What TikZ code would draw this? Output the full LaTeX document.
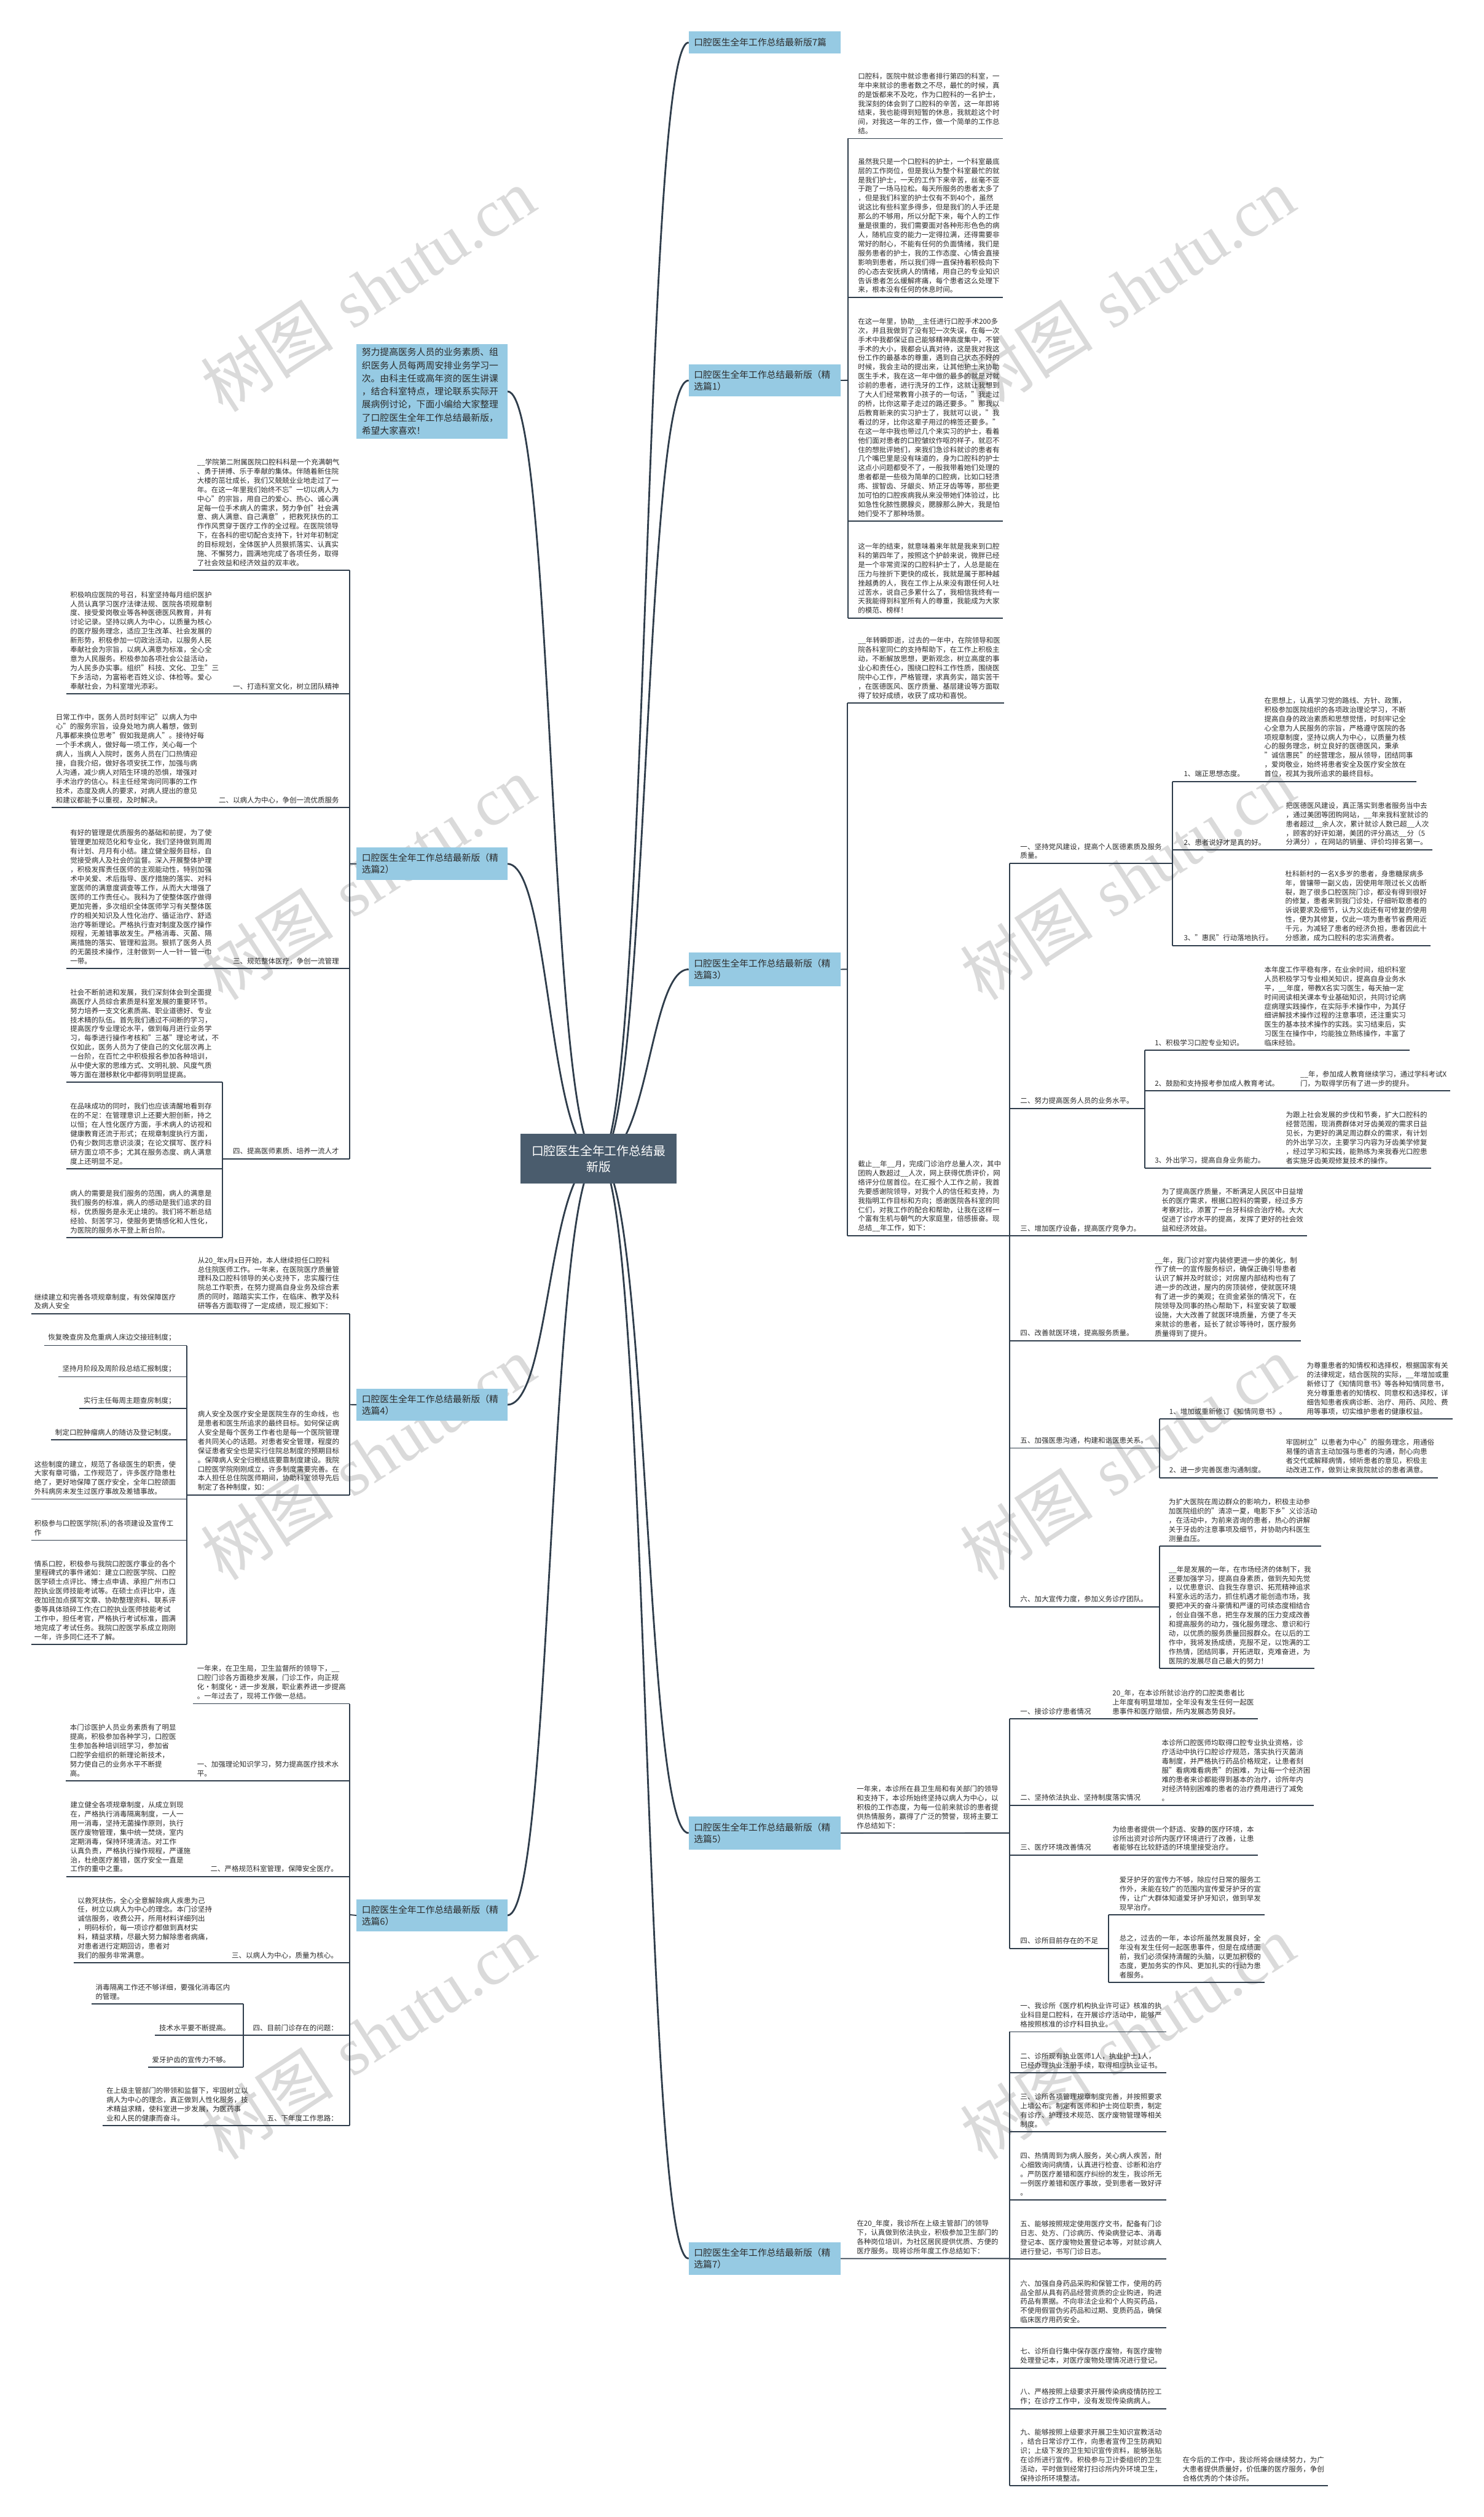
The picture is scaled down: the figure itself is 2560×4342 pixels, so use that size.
\documentclass[tikz,border=0pt]{standalone}
\usepackage{fontspec}
\setmainfont{Noto Sans CJK SC}
\newfontfamily\wmserif{Liberation Serif}
\usetikzlibrary{calc}
\definecolor{lc}{HTML}{2F3D4B}
\definecolor{bfill}{HTML}{96CAE3}
\definecolor{cfill}{HTML}{4A5C6D}
\definecolor{tc}{HTML}{2B2B2B}
\definecolor{wmc}{HTML}{DADADA}
\newcommand\ptxt{\fontsize{12.2}{15.8}\selectfont}
\newcommand\btxt{\fontsize{15.7}{20}\selectfont}
\pgfdeclarelayer{wmk}
\pgfdeclarelayer{bg}
\pgfsetlayers{wmk,bg,main}
\begin{document}
\begin{tikzpicture}[x=1pt,y=-1pt,
  para/.style={anchor=south west,inner sep=0pt,align=left,font=\ptxt,text=tc},
  parar/.style={anchor=south east,inner sep=0pt,align=left,font=\ptxt,text=tc},
  ul/.style={draw=lc,line width=2pt},
  mainln/.style={draw=lc,line width=3pt},
  bnode/.style={anchor=north west,fill=bfill,text=tc,font=\btxt,align=left,inner xsep=9pt,inner ysep=0pt,text width=244pt},
  cnode/.style={fill=cfill,text=white,font=\fontsize{21}{28}\selectfont,align=center,minimum width=269pt,minimum height=86pt,inner sep=0pt},
  wmark/.style={rotate=33,text=wmc,font=\fontsize{115}{120}\selectfont,inner sep=0pt}]
\useasboundingbox (0,0) rectangle (2560,4342);
\begin{pgfonlayer}{wmk}
\fill[white] (0,0) rectangle (2560,4342);
\foreach \x/\y [count=\i] in {635/500,1945/500,635/1515,1945/1515,635/2515,1945/2515,635/3515,1945/3515}
  \node[wmark] (wm\i) at (\x,\y) {树图\hspace{0.3em}{\wmserif shutu.cn}};
\end{pgfonlayer}

% ---------- central and branch nodes ----------
\node[cnode] (C) at (1032.5,1999) {口腔医生全年工作总结最\\新版};
\node[bnode,minimum height=38pt] (B0) at (1188,54) {口腔医生全年工作总结最新版7篇};
\node[bnode,minimum height=56pt] (B1) at (1188,628) {口腔医生全年工作总结最新版（精\\选篇1）};
\node[bnode,minimum height=58pt] (B3) at (1188,1643) {口腔医生全年工作总结最新版（精\\选篇3）};
\node[bnode,minimum height=58pt] (B5) at (1188,3133) {口腔医生全年工作总结最新版（精\\选篇5）};
\node[bnode,minimum height=56pt] (B7) at (1188,3868) {口腔医生全年工作总结最新版（精\\选篇7）};
\node[bnode,minimum height=164pt,text width=242pt,font=\fontsize{15.7}{22.5}\selectfont] (I) at (615,593) {努力提高医务人员的业务素质、组\\织医务人员每两周安排业务学习一\\次。由科主任或高年资的医生讲课\\，结合科室特点，理论联系实际开\\展病例讨论，下面小编给大家整理\\了口腔医生全年工作总结最新版，\\希望大家喜欢！};
\node[bnode,minimum height=56pt,text width=242pt] (B2) at (615,1462) {口腔医生全年工作总结最新版（精\\选篇2）};
\node[bnode,minimum height=56pt,text width=242pt] (B4) at (615,2395) {口腔医生全年工作总结最新版（精\\选篇4）};
\node[bnode,minimum height=56pt,text width=242pt] (B6) at (615,3276) {口腔医生全年工作总结最新版（精\\选篇6）};

\begin{pgfonlayer}{bg}
\draw[mainln] (C.center) .. controls (1120,1999) and (1108,73) .. (B0.west);
\draw[mainln] (C.center) .. controls (1120,1999) and (1108,656) .. (B1.west);
\draw[mainln] (C.center) .. controls (1120,1999) and (1120,1672) .. (B3.west);
\draw[mainln] (C.center) .. controls (1120,1999) and (1110,3162) .. (B5.west);
\draw[mainln] (C.center) .. controls (1120,1999) and (1108,3896) .. (B7.west);
\draw[mainln] (C.center) .. controls (945,1999) and (957,675) .. (I.east);
\draw[mainln] (C.center) .. controls (945,1999) and (950,1490) .. (B2.east);
\draw[mainln] (C.center) .. controls (945,1999) and (950,2423) .. (B4.east);
\draw[mainln] (C.center) .. controls (945,1999) and (955,3303) .. (B6.east);
\end{pgfonlayer}

% ---------- 篇1 ----------
\draw[ul] (B1.east) -- (1463,656);
\draw[ul] (1463,239) -- (1463,1066);
\node[para] (p1a) at (1480,232) {口腔科，医院中就诊患者排行第四的科室，一\\年中来就诊的患者数之不尽，最忙的时候，真\\的是饭都来不及吃，作为口腔科的一名护士，\\我深刻的体会到了口腔科的辛苦，这一年即将\\结束，我也能得到短暂的休息，我就趁这个时\\间，对我这一年的工作，做一个简单的工作总\\结。};
\node[para] (p1b) at (1480,506) {虽然我只是一个口腔科的护士，一个科室最底\\层的工作岗位，但是我认为整个科室最忙的就\\是我们护士，一天的工作下来辛苦，丝毫不亚\\于跑了一场马拉松。每天所服务的患者太多了\\，但是我们科室的护士仅有不到40个，虽然\\说这比有些科室多得多，但是我们的人手还是\\那么的不够用，所以分配下来，每个人的工作\\量是很重的，我们需要面对各种形形色色的病\\人，随机应变的能力一定得拉满，还得需要非\\常好的耐心，不能有任何的负面情绪，我们是\\服务患者的护士，我的工作态度、心情会直接\\影响到患者，所以我们得一直保持着积极向下\\的心态去安抚病人的情绪，用自己的专业知识\\告诉患者怎么缓解疼痛，每个患者这么处理下\\来，根本没有任何的休息时间。};
\node[para] (p1c) at (1480,892) {在这一年里，协助\_\_主任进行口腔手术200多\\次，并且我做到了没有犯一次失误，在每一次\\手术中我都保证自己能够精神高度集中，不管\\手术的大小，我都会认真对待，这是我对我这\\份工作的最基本的尊重，遇到自己状态不好的\\时候，我会主动的提出来，让其他护士来协助\\医生手术，我在这一年中做的最多的就是对就\\诊前的患者，进行洗牙的工作，这就让我想到\\了大人们经常教育小孩子的一句话，"我走过\\的桥，比你这辈子走过的路还要多。"那我以\\后教育新来的实习护士了，我就可以说，"我\\看过的牙，比你这辈子用过的棉签还要多。"\\在这一年中我也带过几个来实习的护士，看着\\他们面对患者的口腔皱纹作呕的样子，就忍不\\住的想批评她们，来我们急诊科就诊的患者有\\几个嘴巴里是没有味道的，身为口腔科的护士\\这点小问题都受不了，一般我带着她们处理的\\患者都是一些极为简单的口腔病，比如口轻溃\\疡、拔智齿、牙龈炎、矫正牙齿等等，那些更\\加可怕的口腔疾病我从来没带她们体验过，比\\如急性化脓性腮腺炎，腮腺那么肿大，我是怕\\她们受不了那种场景。};
\node[para] (p1d) at (1480,1059) {这一年的结束，就意味着来年就是我来到口腔\\科的第四年了，按照这个护龄来说，微胖已经\\是一个非常资深的口腔科护士了，人总是能在\\压力与挫折下更快的成长，我就是属于那种越\\挫越勇的人，我在工作上从来没有跟任何人吐\\过苦水，说自己多累什么了，我相信我终有一\\天我能得到科室所有人的尊重，我能成为大家\\的模范、榜样！};
\draw[ul] (1463,239) -- ($(p1a.south east)+(6,7)$);
\draw[ul] (1463,513) -- ($(p1b.south east)+(6,7)$);
\draw[ul] (1463,899) -- ($(p1c.south east)+(6,7)$);
\draw[ul] (1463,1066) -- ($(p1d.south east)+(6,7)$);

% ---------- 篇3 ----------
\draw[ul] (B3.east) -- (1462,1672);
\draw[ul] (1462,1213) -- (1462,2132);
\node[para] (p3a) at (1480,1206) {\_\_年转瞬即逝，过去的一年中，在院领导和医\\院各科室同仁的支持帮助下，在工作上积极主\\动，不断解放思想，更新观念，树立高度的事\\业心和责任心，围绕口腔科工作性质，围绕医\\院中心工作，严格管理，求真务实，踏实苦干\\，在医德医风、医疗质量、基层建设等方面取\\得了较好成绩，收获了成功和喜悦。};
\draw[ul] (1462,1213) -- ($(p3a.south east)+(6,7)$);
\node[para] (p3b) at (1480,2125) {截止\_\_年\_\_月，完成门诊治疗总量人次，其中\\团购人数超过\_\_人次，网上获得优质评价，网\\络评分位居首位。在汇报个人工作之前，我首\\先要感谢院领导，对我个人的信任和支持，为\\我指明工作目标和方向；感谢医院各科室的同\\仁们，对我工作的配合和帮助，让我在这样一\\个富有生机与朝气的大家庭里，倍感振奋。现\\总结\_\_年工作，如下：};
\draw[ul] (1462,2132) -- (1742,2132);
\draw[ul] (1742,1489) -- (1742,2772);
% 一
\node[para] (l31) at (1760,1482) {一、坚持党风建设，提高个人医德素质及服务\\质量。};
\draw[ul] (1742,1489) -- (2023,1489);
\draw[ul] (2023,1348) -- (2023,1631);
\node[para] (l311) at (2042,1341) {1、端正思想态度。};
\node[para] (p311) at (2181,1341) {在思想上，认真学习党的路线、方针、政策，\\积极参加医院组织的各项政治理论学习，不断\\提高自身的政治素质和思想觉悟，时刻牢记全\\心全意为人民服务的宗旨，严格遵守医院的各\\项规章制度，坚持以病人为中心，以质量为核\\心的服务理念，树立良好的医德医风，秉承\\"诚信惠民"的经营理念，服从领导，团结同事\\，爱岗敬业，始终将患者安全及医疗安全放在\\首位，视其为我所追求的最终目标。};
\draw[ul] (2023,1348) -- ($(p311.south east)+(6,7)$);
\node[para] (l312) at (2042,1459) {2、患者说好才是真的好。};
\node[para] (p312) at (2218,1459) {把医德医风建设，真正落实到患者服务当中去\\，通过美团等团购网站，\_\_年来我科室就诊的\\患者超过\_\_余人次，累计就诊人数已超\_\_人次\\，顾客的好评如潮，美团的评分高达\_\_分（5\\分满分），在网站的销量、评价均排名第一。};
\draw[ul] (2023,1466) -- ($(p312.south east)+(6,7)$);
\node[para] (l313) at (2042,1624) {3、"惠民"行动落地执行。};
\node[para] (p313) at (2217,1624) {杜科新村的一名X多岁的患者，身患糖尿病多\\年，曾镶带一副义齿，因使用年限过长义齿断\\裂，跑了很多口腔医院门诊，都没有得到很好\\的修复，患者来到我门诊处，仔细听取患者的\\诉说要求及细节，认为义齿还有可修复的使用\\性，便为其修复，仅此一项为患者节省费用近\\千元，为减轻了患者的经济负担，患者因此十\\分感激，成为口腔科的忠实消费者。};
\draw[ul] (2023,1631) -- ($(p313.south east)+(6,7)$);
% 二
\node[para] (l32) at (1760,1905) {二、努力提高医务人员的业务水平。};
\draw[ul] (1742,1912) -- (1975,1912);
\draw[ul] (1975,1812) -- (1975,2015);
\node[para] (l321) at (1992,1805) {1、积极学习口腔专业知识。};
\node[para] (p321) at (2181,1805) {本年度工作平稳有序，在业余时间，组织科室\\人员积极学习专业相关知识，提高自身业务水\\平，\_\_年度，带教X名实习医生，每天抽一定\\时间阅读相关课本专业基础知识，共同讨论病\\症病理实践操作，在实际手术操作中，为其仔\\细讲解技术操作过程的注意事项，还注重实习\\医生的基本技术操作的实践。实习结束后，实\\习医生在操作中，均能独立熟练操作，丰富了\\临床经验。};
\draw[ul] (1975,1812) -- ($(p321.south east)+(6,7)$);
\node[para] (l322) at (1992,1875) {2、鼓励和支持报考参加成人教育考试。};
\node[para] (p322) at (2243,1875) {\_\_年，参加成人教育继续学习，通过学科考试X\\门，为取得学历有了进一步的提升。};
\draw[ul] (1975,1882) -- ($(p322.south east)+(6,7)$);
\node[para] (l323) at (1992,2008) {3、外出学习，提高自身业务能力。};
\node[para] (p323) at (2218,2008) {为跟上社会发展的步伐和节奏，扩大口腔科的\\经营范围，现消费群体对牙齿美观的需求日益\\见长，为更好的满足周边群众的需求，有计划\\的外出学习次，主要学习内容为牙齿美学修复\\，经过学习和实践，能熟练为来我春光口腔患\\者实施牙齿美观修复技术的操作。};
\draw[ul] (1975,2015) -- ($(p323.south east)+(6,7)$);
% 三
\node[para] (l33) at (1760,2125) {三、增加医疗设备，提高医疗竞争力。};
\node[para] (p33) at (2004,2125) {为了提高医疗质量，不断满足人民区中日益增\\长的医疗需求，根据口腔科的需要，经过多方\\考察对比，添置了一台牙科综合治疗椅。大大\\促进了诊疗水平的提高，发挥了更好的社会效\\益和经济效益。};
\draw[ul] (1742,2132) -- ($(p33.south east)+(6,7)$);
% 四
\node[para] (l34) at (1760,2306) {四、改善就医环境，提高服务质量。};
\node[para] (p34) at (1992,2306) {\_\_年，我门诊对室内装修更进一步的美化，制\\作了统一的宣传服务标识，确保正确引导患者\\认识了解并及时就诊；对房屋内部结构也有了\\进一步的改进，屋内的房顶装修，使就医环境\\有了进一步的美观；在资金紧张的情况下，在\\院领导及同事的热心帮助下，科室安装了取暖\\设施，大大改善了就医环境质量，方便了冬天\\来就诊的患者，延长了就诊等待时，医疗服务\\质量得到了提升。};
\draw[ul] (1742,2313) -- ($(p34.south east)+(6,7)$);
% 五
\node[para] (l35) at (1760,2491) {五、加强医患沟通，构建和谐医患关系。};
\draw[ul] (1742,2498) -- (2000,2498);
\draw[ul] (2000,2448) -- (2000,2549);
\node[para] (l351) at (2017,2441) {1、增加或重新修订《知情同意书》。};
\node[para] (p351) at (2254,2441) {为尊重患者的知情权和选择权，根据国家有关\\的法律规定，结合医院的实际，\_\_年增加或重\\新修订了《知情同意书》等各种知情同意书，\\充分尊重患者的知情权、同意权和选择权，详\\细告知患者疾病诊断、治疗、用药、风险、费\\用等事项，切实维护患者的健康权益。};
\draw[ul] (2000,2448) -- ($(p351.south east)+(6,7)$);
\node[para] (l352) at (2017,2542) {2、进一步完善医患沟通制度。};
\node[para] (p352) at (2218,2542) {牢固树立"以患者为中心"的服务理念，用通俗\\易懂的语言主动加强与患者的沟通，耐心向患\\者交代或解释病情，倾听患者的意见，积极主\\动改进工作，做到让来我院就诊的患者满意。};
\draw[ul] (2000,2549) -- ($(p352.south east)+(6,7)$);
% 六
\node[para] (l36) at (1760,2765) {六、加大宣传力度，参加义务诊疗团队。};
\draw[ul] (1742,2772) -- (2000,2772);
\draw[ul] (2000,2667) -- (2000,2878);
\node[para] (p361) at (2016,2660) {为扩大医院在周边群众的影响力，积极主动参\\加医院组织的"清凉一夏，电影下乡"义诊活动\\，在活动中，为前来咨询的患者，热心的讲解\\关于牙齿的注意事项及细节，并协助内科医生\\测量血压。};
\draw[ul] (2000,2667) -- ($(p361.south east)+(6,7)$);
\node[para] (p362) at (2016,2871) {\_\_年是发展的一年，在市场经济的体制下，我\\还要加强学习，提高自身素质，做到先知先觉\\，以优患意识、自我生存意识、拓荒精神追求\\科室永远的活力，抓住机遇才能创造市场，我\\要把冲天的奋斗豪情和严谨的可续态度相结合\\，创业自强不息，把生存发展的压力变成改善\\和提高服务的动力，强化服务理念、意识和行\\动，以优质的服务质量回报群众。在以后的工\\作中，我将发扬成绩，克服不足，以饱满的工\\作热情，团结同事，开拓进取，克难奋进，为\\医院的发展尽自己最大的努力！};
\draw[ul] (2000,2878) -- ($(p362.south east)+(6,7)$);

% ---------- 篇2 (left) ----------
\draw[ul] (B2.west) -- (603,1490);
\draw[ul] (603,984) -- (603,1999);
\node[para] (q0) at (340,977) {\_\_学院第二附属医院口腔科科是一个充满朝气\\、勇于拼搏、乐于奉献的集体。伴随着新住院\\大楼的茁壮成长，我们又兢兢业业地走过了一\\年。在这一年里我们始终不忘"一切以病人为\\中心"的宗旨，用自己的爱心、热心、诚心满\\足每一位手术病人的需求，努力争创"社会满\\意、病人满意、自己满意"，把救死扶伤的工\\作作风贯穿于医疗工作的全过程。在医院领导\\下，在各科的密切配合支持下，针对年初制定\\的目标规划，全体医护人员狠抓落实、认真实\\施、不懈努力，圆满地完成了各项任务，取得\\了社会效益和经济效益的双丰收。};
\draw[ul] ($(q0.south west)+(-7,7)$) -- (603,984);
\node[parar] (l21) at (585,1190) {一、打造科室文化，树立团队精神};
\node[para] (q21) at (121,1190) {积极响应医院的号召，科室坚持每月组织医护\\人员认真学习医疗法律法规、医院各项规章制\\度、接受爱岗敬业等各种医德医风教育，并有\\讨论记录。坚持以病人为中心，以质量为核心\\的医疗服务理念，适应卫生改革、社会发展的\\新形势，积极参加一切政治活动，以服务人民\\奉献社会为宗旨，以病人满意为标准，全心全\\意为人民服务。积极参加各项社会公益活动，\\为人民多办实事。组织"科技、文化、卫生"三\\下乡活动，为富裕老百姓义诊、体检等。爱心\\奉献社会，为科室增光添彩。};
\draw[ul] ($(q21.south west)+(-7,7)$) -- (603,1197);
\node[parar] (l22) at (585,1386) {二、以病人为中心，争创一流优质服务};
\node[para] (q22) at (96,1386) {日常工作中，医务人员时刻牢记"以病人为中\\心"的服务宗旨，设身处地为病人着想，做到\\凡事都来换位思考"假如我是病人"。接待好每\\一个手术病人，做好每一项工作，关心每一个\\病人，当病人入院时，医务人员在门口热情迎\\接，自我介绍，做好各项安抚工作，加强与病\\人沟通，减少病人对陌生环境的恐惧，增强对\\手术治疗的信心。科主任经常询问同事的工作\\技术，态度及病人的要求，对病人提出的意见\\和建议都能予以重视，及时解决。};
\draw[ul] ($(q22.south west)+(-7,7)$) -- (603,1393);
\node[parar] (l23) at (585,1664) {三、规范整体医疗，争创一流管理};
\node[para] (q23) at (121,1664) {有好的管理是优质服务的基础和前提，为了使\\管理更加规范化和专业化，我们坚持做到周周\\有计划、月月有小结。建立健全服务目标，自\\觉接受病人及社会的监督。深入开展整体护理\\，积极发挥责任医师的主观能动性，特别加强\\术中关爱、术后指导、医疗措施的落实、对科\\室医师的满意度调查等工作，从而大大增强了\\医师的工作责任心。我科为了使整体医疗做得\\更加完善，多次组织全体医师学习有关整体医\\疗的相关知识及人性化治疗、循证治疗、舒适\\治疗等新理论。严格执行查对制度及医疗操作\\规程，无差错事故发生。严格消毒、灭菌、隔\\离措施的落实、管理和监测。狠抓了医务人员\\的无菌技术操作，注射做到一人一针一管一巾\\一带。};
\draw[ul] ($(q23.south west)+(-7,7)$) -- (603,1671);
\node[parar] (l24) at (585,1992) {四、提高医师素质、培养一流人才};
\draw[ul] (384,1999) -- (603,1999);
\draw[ul] (384,1867) -- (384,2135);
\node[para] (q241) at (121,1860) {社会不断前进和发展，我们深刻体会到全面提\\高医疗人员综合素质是科室发展的重要环节。\\努力培养一支文化素质高、职业道德好、专业\\技术精的队伍。首先我们通过不间断的学习，\\提高医疗专业理论水平，做到每月进行业务学\\习，每季进行操作考核和"三基"理论考试，不\\仅如此，医务人员为了使自己的文化层次再上\\一台阶，在百忙之中积极报名参加各种培训，\\从中使大家的思维方式、文明礼貌、风度气质\\等方面在潜移默化中都得到明显提高。};
\draw[ul] ($(q241.south west)+(-7,7)$) -- (384,1867);
\node[para] (q242) at (121,2009) {在品味成功的同时，我们也应该清醒地看到存\\在的不足：在管理意识上还要大胆创新，持之\\以恒；在人性化医疗方面，手术病人的访视和\\健康教育还流于形式；在规章制度执行方面，\\仍有少数同志意识淡漠；在论文撰写、医疗科\\研方面立项不多；尤其在服务态度、病人满意\\度上还明显不足。};
\draw[ul] ($(q242.south west)+(-7,7)$) -- (384,2016);
\node[para] (q243) at (121,2128) {病人的需要是我们服务的范围，病人的满意是\\我们服务的标准，病人的感动是我们追求的目\\标，优质服务是永无止境的。我们将不断总结\\经验、刻苦学习，使服务更情感化和人性化，\\为医院的服务水平登上新台阶。};
\draw[ul] ($(q243.south west)+(-7,7)$) -- (384,2135);

% ---------- 篇4 (left) ----------
\draw[ul] (B4.west) -- (603,2423);
\draw[ul] (603,2266) -- (603,2579);
\node[para] (r0) at (341,2259) {从20\_年x月x日开始，本人继续担任口腔科\\总住院医师工作。一年来，在医院医疗质量管\\理科及口腔科领导的关心支持下，忠实履行住\\院总工作职责，在努力提高自身业务及综合素\\质的同时，踏踏实实工作，在临床、教学及科\\研等各方面取得了一定成绩，现汇报如下：};
\node[para] (r0c) at (59,2259) {继续建立和完善各项规章制度，有效保障医疗\\及病人安全};
\draw[ul] ($(r0c.south west)+(-5,7)$) -- (603,2266);
\node[para] (r1) at (341,2572) {病人安全及医疗安全是医院生存的生命线，也\\是患者和医生所追求的最终目标。如何保证病\\人安全是每个医务工作者也是每一个医院管理\\者共同关心的话题。对患者安全管理，程度的\\保证患者安全也是实行住院总制度的预期目标\\。保障病人安全归根结底要靠制度建设。我院\\口腔医学院刚刚成立，许多制度需要完善。在\\本人担任总住院医师期间，协助科室领导先后\\制定了各种制度，如：};
\draw[ul] (322,2579) -- (603,2579);
\draw[ul] (322,2321) -- (322,2837);
\node[parar] (r11) at (303,2314) {恢复晚查房及危重病人床边交接班制度；};
\draw[ul] ($(r11.south west)+(-7,7)$) -- (322,2321);
\node[parar] (r12) at (303,2368) {坚持月阶段及周阶段总结汇报制度；};
\draw[ul] ($(r12.south west)+(-7,7)$) -- (322,2375);
\node[parar] (r13) at (303,2423) {实行主任每周主题查房制度；};
\draw[ul] ($(r13.south west)+(-7,7)$) -- (322,2430);
\node[parar] (r14) at (303,2477) {制定口腔肿瘤病人的随访及登记制度。};
\draw[ul] ($(r14.south west)+(-7,7)$) -- (322,2484);
\node[para] (r15) at (59,2579) {这些制度的建立，规范了各级医生的职责，使\\大家有章可循，工作规范了，许多医疗隐患杜\\绝了，更好地保障了医疗安全，全年口腔颌面\\外科病房未发生过医疗事故及差错事故。};
\draw[ul] ($(r15.south west)+(-5,7)$) -- (322,2586);
\node[para] (r16) at (59,2650) {积极参与口腔医学院(系)的各项建设及宣传工\\作};
\draw[ul] ($(r16.south west)+(-5,7)$) -- (322,2657);
\node[para] (r17) at (59,2830) {情系口腔，积极参与我院口腔医疗事业的各个\\里程碑式的事件诸如：建立口腔医学院、口腔\\医学硕士点评比、博士点申请、承担广州市口\\腔执业医师技能考试等。在硕士点评比中，连\\夜加班加点撰写文章、协助整理资料、联系评\\委等具体琐碎工作;在口腔执业医师技能考试\\工作中，担任考官，严格执行考试标准，圆满\\地完成了考试任务。我院口腔医学系成立刚刚\\一年，许多同仁还不了解。};
\draw[ul] ($(r17.south west)+(-5,7)$) -- (322,2837);

% ---------- 篇6 (left) ----------
\draw[ul] (B6.west) -- (603,3303);
\draw[ul] (603,2939) -- (603,3667);
\node[para] (s0) at (340,2932) {一年来，在卫生局，卫生监督所的领导下，\_\_\\口腔门诊各方面稳步发展，门诊工作，向正规\\化·制度化·进一步发展，职业素养进一步提高\\。一年过去了，现将工作做一总结。};
\draw[ul] ($(s0.south west)+(-7,7)$) -- (603,2939);
\node[para] (l61) at (340,3065) {一、加强理论知识学习，努力提高医疗技术水\\平。};
\node[parar] (s61) at (304,3065) {本门诊医护人员业务素质有了明显\\提高，积极参加各种学习，口腔医\\生参加各种培训班学习，参加省\\口腔学会组织的新理论新技术，\\努力使自己的业务水平不断提\\高。};
\draw[ul] ($(s61.south west)+(-7,7)$) -- (603,3072);
\node[parar] (l62) at (583,3230) {二、严格规范科室管理，保障安全医疗。};
\node[parar] (s62) at (329,3230) {建立健全各项规章制度，从成立到现\\在，严格执行消毒隔离制度，一人一\\用一消毒，坚持无菌操作原则，执行\\医疗废物管理，集中统一焚烧，室内\\定期消毒，保持环境清洁。对工作\\认真负责，严格执行操作规程，严谨施\\治，杜绝医疗差错，医疗安全一直是\\工作的重中之重。};
\draw[ul] ($(s62.south west)+(-7,7)$) -- (603,3237);
\node[parar] (l63) at (583,3379) {三、以病人为中心，质量为核心。};
\node[parar] (s63) at (366,3379) {以救死扶伤，全心全意解除病人疾患为己\\任，树立以病人为中心的理念。本门诊坚持\\诚信服务，收费公开，所用材料详细列出\\，明码标价，每一项诊疗都做到真材实\\料，精益求精，尽最大努力解除患者病痛，\\对患者进行定期回访，患者对\\我们的服务非常满意。};
\draw[ul] ($(s63.south west)+(-7,7)$) -- (603,3386);
\node[parar] (l64) at (583,3504) {四、目前门诊存在的问题：};
\draw[ul] (420,3511) -- (603,3511);
\draw[ul] (420,3457) -- (420,3566);
\node[parar] (s641) at (397,3450) {消毒隔离工作还不够详细，要强化消毒区内\\的管理。};
\draw[ul] ($(s641.south west)+(-7,7)$) -- (420,3457);
\node[parar] (s642) at (397,3504) {技术水平要不断提高。};
\draw[ul] ($(s642.south west)+(-7,7)$) -- (420,3511);
\node[parar] (s643) at (397,3559) {爱牙护齿的宣传力不够。};
\draw[ul] ($(s643.south west)+(-7,7)$) -- (420,3566);
\node[parar] (l65) at (583,3660) {五、下年度工作思路：};
\node[parar] (s65) at (428,3660) {在上级主管部门的带领和监督下，牢固树立以\\病人为中心的理念，真正做到人性化服务，技\\术精益求精，使科室进一步发展，为医药事\\业和人民的健康而奋斗。};
\draw[ul] ($(s65.south west)+(-7,7)$) -- (603,3667);

% ---------- 篇5 ----------
\draw[ul] (B5.east) -- (1742,3162);
\node[para] (t0) at (1478,3155) {一年来，本诊所在县卫生局和有关部门的领导\\和支持下，本诊所始终坚持以病人为中心，以\\积极的工作态度，为每一位前来就诊的患者提\\供热情服务，赢得了广泛的赞誉，现将主要工\\作总结如下：};
\draw[ul] (1742,2965) -- (1742,3361);
\node[para] (t51) at (1760,2958) {一、接诊诊疗患者情况};
\node[para] (t51p) at (1919,2958) {20\_年，在本诊所就诊治疗的口腔类患者比\\上年度有明显增加，全年没有发生任何一起医\\患事件和医疗赔偿，所内发展态势良好。};
\draw[ul] (1742,2965) -- ($(t51p.south east)+(6,7)$);
\node[para] (t52) at (1760,3107) {二、坚持依法执业、坚持制度落实情况};
\node[para] (t52p) at (2004,3107) {本诊所口腔医师均取得口腔专业执业资格，诊\\疗活动中执行口腔诊疗规范，落实执行灭菌消\\毒制度，并严格执行药品价格规定，让患者刻\\服"看病难看病贵"的困难，为让每一个经济困\\难的患者来诊都能得到基本的治疗，诊所年内\\对经济特别困难的患者的治疗费用进行了减免\\。};
\draw[ul] (1742,3114) -- ($(t52p.south east)+(6,7)$);
\node[para] (t53) at (1760,3193) {三、医疗环境改善情况};
\node[para] (t53p) at (1919,3193) {为给患者提供一个舒适、安静的医疗环境，本\\诊所出资对诊所内医疗环境进行了改善，让患\\者能够在比较舒适的环境里接受治疗。};
\draw[ul] (1742,3200) -- ($(t53p.south east)+(6,7)$);
\node[para] (t54) at (1760,3354) {四、诊所目前存在的不足};
\draw[ul] (1742,3361) -- (1912,3361);
\draw[ul] (1912,3303) -- (1912,3420);
\node[para] (t541) at (1931,3296) {爱牙护牙的宣传力不够，除应付日常的服务工\\作外，未能在较广的范围内宣传爱牙护牙的宣\\传，让广大群体知道爱牙护牙知识，做到早发\\现早治疗。};
\draw[ul] (1912,3303) -- ($(t541.south east)+(6,7)$);
\node[para] (t542) at (1931,3413) {总之，过去的一年，本诊所虽然发展良好，全\\年没有发生任何一起医患事件，但是在成绩面\\前，我们必须保持清醒的头脑，以更加积极的\\态度，更加务实的作风、更加扎实的行动为患\\者服务。};
\draw[ul] (1912,3420) -- ($(t542.south east)+(6,7)$);

% ---------- 篇7 ----------
\draw[ul] (B7.east) -- (1742,3896);
\node[para] (u0) at (1478,3889) {在20\_年度，我诊所在上级主管部门的领导\\下，认真做到依法执业，积极参加卫生部门的\\各种岗位培训，为社区居民提供优质、方便的\\医疗服务。现将诊所年度工作总结如下：};
\draw[ul] (1742,3505) -- (1742,4288);
\node[para] (u1) at (1760,3498) {一、我诊所《医疗机构执业许可证》核准的执\\业科目是口腔科，在开展诊疗活动中，能够严\\格按照核准的诊疗科目执业。};
\draw[ul] (1742,3505) -- (2012,3505);
\node[para] (u2) at (1760,3569) {二、诊所现有执业医师1人，执业护士1人，\\已经办理执业注册手续，取得相应执业证书。};
\draw[ul] (1742,3576) -- (2012,3576);
\node[para] (u3) at (1760,3670) {三、诊所各项管理规章制度完善，并按照要求\\上墙公布。制定有医师和护士岗位职责，制定\\有诊疗、护理技术规范、医疗废物管理等相关\\制度。};
\draw[ul] (1742,3677) -- (2012,3677);
\node[para] (u4) at (1760,3788) {四、热情周到为病人服务，关心病人疾苦，耐\\心细致询问病情，认真进行检查、诊断和治疗\\。严防医疗差错和医疗纠纷的发生，我诊所无\\一例医疗差错和医疗事故，受到患者一致好评\\。};
\draw[ul] (1742,3795) -- (2012,3795);
\node[para] (u5) at (1760,3890) {五、能够按照规定使用医疗文书，配备有门诊\\日志、处方、门诊病历、传染病登记本、消毒\\登记本、医疗废物处置登记本等，对就诊病人\\进行登记，书写门诊日志。};
\draw[ul] (1742,3897) -- (2012,3897);
\node[para] (u6) at (1760,4008) {六、加强自身药品采购和保管工作，使用的药\\品全部从具有药品经营资质的企业购进，购进\\药品有票据。不向非法企业和个人购买药品，\\不使用假冒伪劣药品和过期、变质药品，确保\\临床医疗用药安全。};
\draw[ul] (1742,4015) -- (2012,4015);
\node[para] (u7) at (1760,4078) {七、诊所自行集中保存医疗废物，有医疗废物\\处理登记本，对医疗废物处理情况进行登记。};
\draw[ul] (1742,4085) -- (2012,4085);
\node[para] (u8) at (1760,4148) {八、严格按照上级要求开展传染病疫情防控工\\作；在诊疗工作中，没有发现传染病病人。};
\draw[ul] (1742,4155) -- (2012,4155);
\node[para] (u9) at (1760,4281) {九、能够按照上级要求开展卫生知识宣教活动\\，结合日常诊疗工作，向患者宣传卫生防病知\\识；上级下发的卫生知识宣传资料，能够张贴\\在诊所进行宣传。积极参与卫计委组织的卫生\\活动，平时做到经常打扫诊所内外环境卫生，\\保持诊所环境整洁。};
\node[para] (u9c) at (2040,4281) {在今后的工作中，我诊所将会继续努力，为广\\大患者提供质量好，价低廉的医疗服务，争创\\合格优秀的个体诊所。};
\draw[ul] (1742,4288) -- ($(u9c.south east)+(6,7)$);
\end{tikzpicture}
\end{document}
